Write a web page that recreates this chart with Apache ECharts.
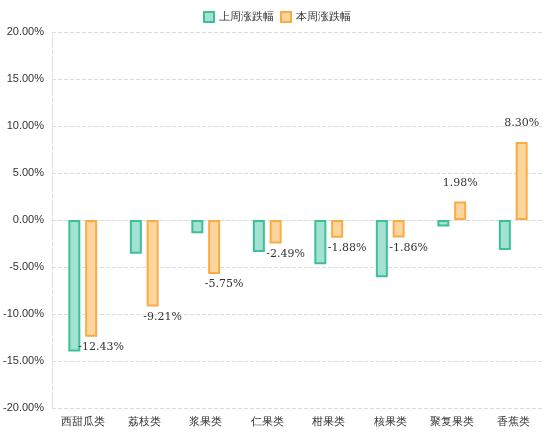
<!DOCTYPE html>
<html lang="zh">
<head>
<meta charset="UTF-8">
<style>
  body { margin: 0; background: #fff; }
  #container { width: 554px; height: 447px; }
</style>
<script src="https://cdn.jsdelivr.net/npm/echarts@6/dist/echarts.min.js"></script>
</head>
<body>
<div id="container"></div>
<script>
var categories = ['西甜瓜类', '荔枝类', '浆果类', '仁果类', '柑果类', '核果类', '聚复果类', '香蕉类'];
var lastWeek = [-14.0, -3.6, -1.4, -3.4, -4.7, -6.1, -0.7, -3.2];
var thisWeek = [-12.43, -9.21, -5.75, -2.49, -1.88, -1.86, 1.98, 8.30];

var myChart = echarts.init(document.getElementById('container'));
var option = {
    legend: {
        top: 6,
        left: 'center',
        icon: 'rect',
        itemWidth: 10,
        itemHeight: 10,
        itemGap: 6,
        textStyle: { fontSize: 11, color: '#333' },
        data: ['上周涨跌幅', '本周涨跌幅']
    },
    grid: { left: 52, right: 10, top: 32, bottom: 39 },
    xAxis: {
        type: 'category',
        data: categories,
        axisTick: { show: false },
        axisLine: { lineStyle: { color: '#ddd', type: 'dashed' } },
        axisLabel: { color: '#333', fontSize: 11, margin: 8 }
    },
    yAxis: {
        type: 'value',
        min: -20,
        max: 20,
        interval: 5,
        axisLabel: { color: '#333', fontSize: 11, formatter: function (v) { return v.toFixed(2) + '%'; } },
        splitLine: { lineStyle: { color: '#ddd', type: 'dashed' } },
        axisLine: { show: true, lineStyle: { color: '#ddd', type: 'dashed' } }
    },
    series: [
        {
            name: '上周涨跌幅',
            type: 'bar',
            barWidth: 12,
            barGap: '40%',
            itemStyle: { color: '#a3e2d2', borderColor: '#3dbf9c', borderWidth: 2 },
            data: lastWeek
        },
        {
            name: '本周涨跌幅',
            type: 'bar',
            barWidth: 12,
            itemStyle: { color: '#ffd59e', borderColor: '#f8ac45', borderWidth: 2 },
            label: {
                show: true,
                fontFamily: 'DejaVu Serif',
                fontSize: 11,
                color: '#333',
                formatter: function (p) { return p.value.toFixed(2) + '%'; },
                position: 'top'
            },
            data: thisWeek.map(function (v) {
                return v < 0 ? { value: v, label: { position: 'bottom', offset: [10, 0] } } : { value: v, label: { offset: [0, -8] } };
            })
        }
    ]
};
myChart.setOption(option);
</script>
</body>
</html>
